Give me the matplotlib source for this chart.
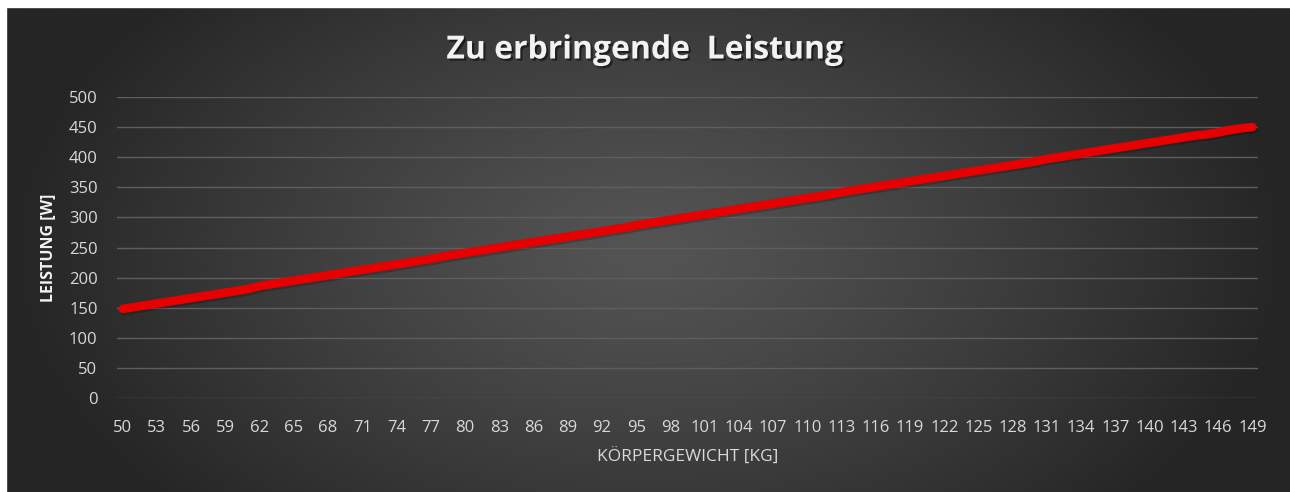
import numpy as np
import matplotlib.pyplot as plt
import matplotlib.patheffects as pe
from matplotlib.patches import Rectangle

# body weight [kg] and required power [W]
weights = list(range(50, 150))
power = [148, 151, 154, 157, 160, 163, 166, 169, 172, 175,
         178, 181, 186, 189, 192, 195, 198, 201, 204, 207,
         210, 213, 216, 219, 222, 225, 228, 231, 235, 238,
         241, 244, 247, 250, 253, 256, 259, 262, 265, 268,
         271, 274, 277, 280, 283, 287, 290, 293, 296, 299,
         302, 305, 308, 311, 314, 317, 320, 323, 326, 329,
         332, 335, 338, 342, 345, 348, 351, 354, 357, 360,
         363, 366, 369, 372, 375, 378, 381, 384, 387, 390,
         393, 397, 400, 403, 406, 409, 412, 415, 418, 421,
         424, 427, 430, 433, 436, 438, 441, 445, 448, 450]
y_ticks = [0, 50, 100, 150, 200, 250, 300, 350, 400, 450, 500]

title = 'Zu erbringende  Leistung'
xlabel = 'KÖRPERGEWICHT [KG]'
ylabel = 'LEISTUNG [W]'

W, H = 1290, 492
fig = plt.figure(figsize=(W / 100, H / 100), dpi=100, facecolor='#262626')

# dark background with a lighter centre
bg = fig.add_axes([6 / W, 0, 1 - 6 / W, 1 - 7 / H])
gx, gy = np.meshgrid(np.linspace(-1, 1, 600), np.linspace(-1, 1, 250))
d = np.clip(np.sqrt(gx**2 + (gy / 1.6)**2), 0, 1)
shade = (0x54 - (0x54 - 0x25) * d**1.2) / 255
bg.imshow(np.dstack([shade, shade, shade]), aspect='auto', extent=[0, 1, 0, 1])
bg.set_axis_off()

# white strips on top and left edge
fig.patches.append(Rectangle((0, 0), 6 / W, 1, transform=fig.transFigure, color='white', zorder=10))
fig.patches.append(Rectangle((0, 1 - 7 / H), 1, 7 / H, transform=fig.transFigure, color='white', zorder=10))

ax = fig.add_axes([117 / W, 94 / H, (1258 - 117) / W, (398 - 97) / H])
ax.set_facecolor('none')
xs = np.arange(len(weights))
ax.plot(xs, power, color='#e60000', lw=6.2, solid_capstyle='round', zorder=3,
        path_effects=[pe.SimpleLineShadow(offset=(1, -1.5), shadow_color='black', alpha=0.2), pe.Normal()])

ax.set_xlim(-0.5, len(weights) - 0.5)
ax.set_ylim(0, 500)
ax.set_yticks(y_ticks)
ax.set_xticks(xs[::3])
ax.set_xticklabels([str(w) for w in weights[::3]])
ax.grid(axis='y', color='#5e5e5e', lw=1)
ax.set_axisbelow(True)
for s in ax.spines.values():
    s.set_visible(False)
ax.tick_params(length=0, colors='#d9d9d9', labelsize=12)
ax.tick_params(axis='x', pad=16)
ax.tick_params(axis='y', pad=14)
for lab in ax.get_xticklabels() + ax.get_yticklabels():
    lab.set_family('Open Sans')

ax.set_xlabel(xlabel, color='#d9d9d9', fontsize=12.5, family='Open Sans', labelpad=9)
ax.set_ylabel(ylabel, color='#f2f2f2', fontsize=11.5, family='Open Sans', fontweight='bold', labelpad=9)

fig.text(0.5, 1 - 50 / H, title, ha='center', va='center', color='#f2f2f2',
         fontsize=23, family='Open Sans', fontweight='bold',
         path_effects=[pe.withSimplePatchShadow(offset=(1.5, -1.5), shadow_rgbFace='black', alpha=0.5)])

fig.savefig('out.png', dpi=100, facecolor=fig.get_facecolor())
